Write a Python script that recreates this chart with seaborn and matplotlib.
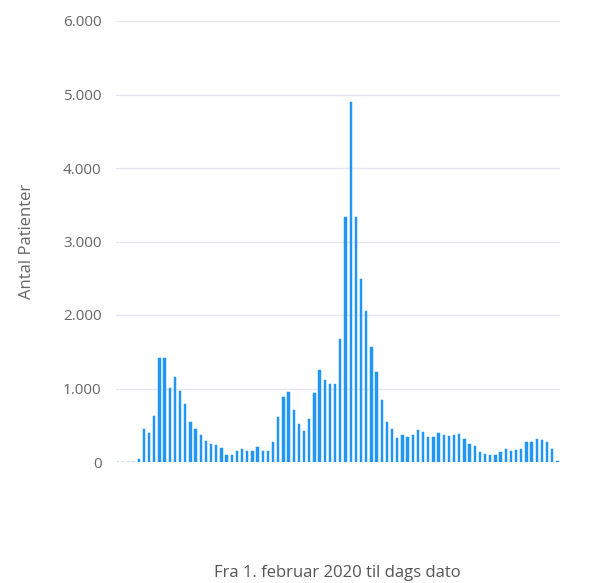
import pandas as pd
import matplotlib
matplotlib.use("Agg")
import matplotlib.pyplot as plt
import matplotlib.ticker as mticker
import seaborn as sns

# Weekly patient counts (from 1 Feb 2020)
patients = [
    0, 0, 0, 0, 35, 445, 400, 630, 1415, 1415,
    1010, 1160, 960, 785, 550, 450, 367, 290, 245, 230,
    190, 100, 90, 150, 173, 145, 150, 210, 155, 145,
    277, 608, 890, 948, 707, 513, 417, 585, 939, 1252,
    1116, 1057, 1065, 1673, 3329, 4902, 3338, 2486, 2059, 1565,
    1229, 844, 540, 449, 327, 367, 345, 367, 431, 413,
    340, 340, 399, 367, 350, 367, 385, 317, 240, 213,
    140, 109, 100, 90, 131, 172, 145, 163, 181, 268,
    268, 313, 295, 268, 177, 15,
]
weeks = list(range(len(patients)))
y_ticks = [0, 1000, 2000, 3000, 4000, 5000, 6000]

x_label = "Fra 1. februar 2020 til dags dato"
y_label = "Antal Patienter"

df = pd.DataFrame({"week": weeks, "patients": patients})

sns.set_style("white")
plt.rcParams["font.family"] = ["Open Sans", "DejaVu Sans"]

fig = plt.figure(figsize=(5.97, 5.83), dpi=100)
ax = fig.add_axes([115.5 / 597, 121 / 583, (560 - 115.5) / 597, 441 / 583])

sns.barplot(data=df, x="week", y="patients", color="#2196f3",
            saturation=1, width=0.45, edgecolor="#2196f3", linewidth=0.35,
            ax=ax)

ax.set_ylim(0, 6000)
ax.set_xlim(-0.5, len(patients) - 0.5)
ax.set_yticks(y_ticks)
ax.yaxis.set_major_formatter(
    mticker.FuncFormatter(lambda v, p: f"{v:,.0f}".replace(",", ".")))
ax.set_xticks([])

ax.grid(axis="y", color="#e6e6f2", linewidth=1)
ax.set_axisbelow(True)
for s in ax.spines.values():
    s.set_visible(False)
ax.tick_params(axis="y", length=0, pad=10, labelsize=11, labelcolor="#666666")

ax.set_xlabel(x_label, fontsize=12, color="#555555")
ax.xaxis.set_label_coords(0.5, -111 / 441)
ax.xaxis.label.set_va("center")
ax.set_ylabel(y_label, fontsize=12, color="#666666")
ax.yaxis.set_label_coords(-(115.5 - 27) / 444.5, 0.5)
ax.yaxis.label.set_va("center")

fig.savefig("out.png", dpi=100)
